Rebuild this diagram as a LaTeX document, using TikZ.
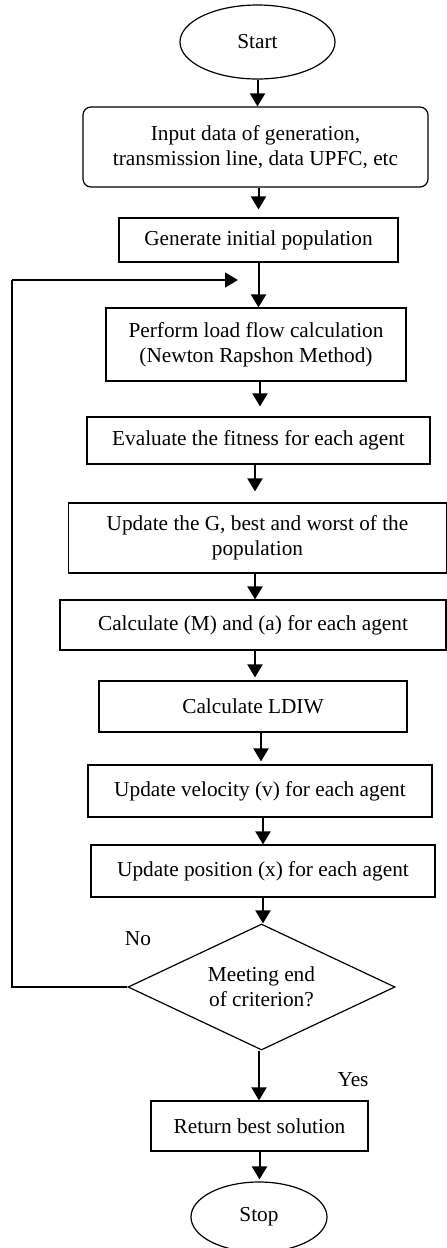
\documentclass[tikz,border=0pt]{standalone}
\usepackage{fontspec}
\setmainfont{Liberation Serif}
\usetikzlibrary{arrows.meta,shapes.geometric}
\begin{document}
\begin{tikzpicture}[x=1pt,y=-1pt,
  every node/.style={font=\fontsize{21.3}{25}\selectfont},
  box/.style={draw,line width=1.2pt,rectangle,align=center,inner sep=0pt},
  rbox/.style={box,rounded corners=8pt},
  term/.style={draw,line width=1.2pt,ellipse,inner sep=0pt,align=center},
  decide/.style={draw,line width=1.2pt,diamond,shape aspect=2.12,inner sep=0pt,align=center},
  arr/.style={line width=2pt,-{Triangle[length=13pt,width=15pt]}},
  loopline/.style={line width=1.5pt},
  lbl/.style={inner sep=0pt}]
\useasboundingbox (0,0) rectangle (447,1248);
\node[term,minimum width=155pt,minimum height=74pt] (start) at (257.5,42) {Start};
\node[rbox,minimum width=345pt,minimum height=80pt] (input) at (255.5,147) {Input data of generation,\\ transmission line, data UPFC, etc};
\node[box,minimum width=279pt,minimum height=44pt] (gen) at (258.5,240) {Generate initial population};
\node[box,minimum width=300pt,minimum height=73pt] (perf) at (256,344.5) {Perform load flow calculation\\(Newton Rapshon Method)};
\node[box,minimum width=343pt,minimum height=47pt] (eval) at (258.5,440.5) {Evaluate the fitness for each agent};
\node[box,minimum width=378pt,minimum height=70pt] (upd) at (257.5,538) {Update the G, best and worst of the\\population};
\node[box,minimum width=386pt,minimum height=50pt] (calc) at (253,625) {Calculate (M) and (a) for each agent};
\node[box,minimum width=308pt,minimum height=51pt] (ldiw) at (253,706.5) {Calculate LDIW};
\node[box,minimum width=344pt,minimum height=52pt] (vel) at (260,791) {Update velocity (v) for each agent};
\node[box,minimum width=344pt,minimum height=52pt] (pos) at (263,871) {Update position (x) for each agent};
\node[decide,minimum width=267pt,minimum height=126pt] (dia) at (261.5,987) {Meeting end\\of criterion?};
\node[box,minimum width=217pt,minimum height=50pt] (ret) at (259.5,1126) {Return best solution};
\node[term,minimum width=136pt,minimum height=70pt] (stop) at (259,1217) {Stop};
\node[lbl] (no) at (138,939) {No};
\node[lbl] (yes) at (353,1080) {Yes};
\coordinate (c1) at (12,987);
\coordinate (c2) at (12,280);
\coordinate (c3) at (238,280);
\draw[arr] (start.south) -- (start.south |- input.north);
\draw[arr,shorten >=8pt] ([xshift=3pt]input.south) -- ([xshift=3pt]input.south |- gen.north);
\draw[arr] (gen.south) -- (gen.south |- perf.north);
\draw[arr,shorten >=10pt] ([xshift=4pt]perf.south) -- ([xshift=4pt]perf.south |- eval.north);
\draw[arr,shorten >=11pt] ([xshift=-3.5pt]eval.south) -- ([xshift=-3.5pt]eval.south |- upd.north);
\draw[arr] ([xshift=-2.5pt]upd.south) -- ([xshift=-2.5pt]upd.south |- calc.north);
\draw[arr,shorten >=3pt] ([xshift=2pt]calc.south) -- ([xshift=2pt]calc.south |- ldiw.north);
\draw[arr,shorten >=3pt] ([xshift=8pt]ldiw.south) -- ([xshift=8pt]ldiw.south |- vel.north);
\draw[arr] ([xshift=3pt]vel.south) -- ([xshift=3pt]vel.south |- pos.north);
\draw[arr] (pos.south) -- (pos.south |- dia.north);
\draw[arr] ([xshift=-2.5pt]dia.south) -- ([xshift=-2.5pt]dia.south |- ret.north);
\draw[arr,shorten >=2pt] (ret.south) -- (ret.south |- stop.north);
\draw[loopline] (dia.west) -- (c1) -- (c2);
\draw[arr,line width=1.5pt] (c2) -- (c3);
\end{tikzpicture}
\end{document}
